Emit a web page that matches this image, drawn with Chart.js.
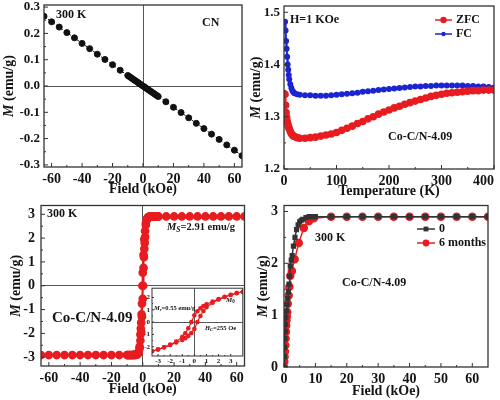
<!DOCTYPE html>
<html lang="en">
<head>
  <meta charset="UTF-8">
  <script src="https://cdn.jsdelivr.net/npm/chart.js@4.4.1/dist/chart.umd.min.js"></script>
  <title>Magnetization panels</title>
  <style>
    body { margin: 0; background: #fff; }
    #wrap { position: relative; width: 500px; height: 400px; }
    canvas { position: absolute; }
  </style>
</head>
<body>
  <div id="wrap">
    <canvas id="c1" style="left:0;top:0" width="250" height="200"></canvas>
    <canvas id="c2" style="left:250px;top:0" width="250" height="200"></canvas>
    <canvas id="c3" style="left:0;top:200px" width="250" height="200"></canvas>
    <canvas id="c4" style="left:250px;top:200px" width="250" height="200"></canvas>
    <canvas id="c5" style="left:140px;top:283px" width="108" height="85"></canvas>
  </div>
  <script>
    // panel a: CN at 300 K
    const P1_FIELD = [-65, -60, -55, -50, -45, -40, -35, -30, -25, -20, -15,
      -10, -9, -8, -7, -6, -5, -4, -3, -2, -1, 0, 1, 2, 3, 4, 5, 6, 7, 8, 9, 10,
      15, 20, 25, 30, 35, 40, 45, 50, 55, 60, 65];
    const P1_M = [0.265, 0.244, 0.224, 0.203, 0.183, 0.162, 0.142, 0.121, 0.101, 0.081, 0.060,
      0.040, 0.036, 0.032, 0.028, 0.024, 0.020, 0.016, 0.012, 0.008, 0.004, 0.000, -0.004, -0.008, -0.012, -0.016, -0.020, -0.024, -0.028, -0.032, -0.036, -0.040,
      -0.060, -0.081, -0.101, -0.121, -0.142, -0.162, -0.183, -0.203, -0.224, -0.244, -0.265];
    const P1_XTICKS = [-60, -40, -20, 0, 20, 40, 60];
    const P1_YTICKS = [-0.3, -0.2, -0.1, 0, 0.1, 0.2, 0.3];

    // panel b: ZFC / FC
    const P2_T = [2, 3, 4, 5, 6, 7, 8, 9, 10, 12, 14, 16, 18, 20, 25, 30,
      40, 50, 60, 70, 80, 90,
      100, 110, 120, 130, 140, 150, 160, 170, 180, 190, 200, 210, 220, 230, 240, 250,
      260, 270, 280, 290, 300, 310, 320, 330, 340, 350, 360, 370, 380, 390, 400];
    const P2_ZFC = [1.343, 1.322, 1.308, 1.299, 1.292, 1.287, 1.283, 1.280, 1.277, 1.272, 1.268, 1.265, 1.263, 1.262, 1.260, 1.259,
      1.259, 1.260, 1.261, 1.263, 1.265, 1.267,
      1.270, 1.274, 1.278, 1.282, 1.287, 1.291, 1.296, 1.300, 1.305, 1.309, 1.313, 1.317, 1.320, 1.324, 1.327, 1.330,
      1.333, 1.336, 1.339, 1.341, 1.343, 1.345, 1.346, 1.347, 1.348, 1.349, 1.350, 1.350, 1.351, 1.351, 1.351];
    const P2_FC = [1.482, 1.465, 1.445, 1.430, 1.415, 1.400, 1.390, 1.380, 1.372, 1.362, 1.355, 1.350, 1.347, 1.345, 1.343, 1.342,
      1.341, 1.341, 1.340, 1.340, 1.340, 1.341,
      1.342, 1.343, 1.344, 1.345, 1.346, 1.348, 1.349, 1.350, 1.351, 1.352, 1.353, 1.354, 1.355, 1.356, 1.357, 1.358,
      1.358, 1.359, 1.359, 1.360, 1.360, 1.360, 1.360, 1.360, 1.360, 1.359, 1.359, 1.358, 1.358, 1.357, 1.356];
    const P2_XTICKS = [0, 100, 200, 300, 400];
    const P2_YTICKS = [1.2, 1.3, 1.4, 1.5];

    // panel c: hysteresis of Co-C/N-4.09
    const P3_H_UP = [-65, -60, -55, -50, -45, -40, -35, -30, -25, -20, -15,
      -10, -9, -8, -7, -6, -5,
      -4.5, -4, -3.5, -3, -2.5, -2, -1.5, -1, -0.5,
      0, 0.25, 0.5, 0.75, 1, 1.25, 1.5,
      2, 2.5, 3, 3.5, 4, 4.5, 5,
      6, 7, 8, 9, 10,
      15, 20, 25, 30, 35, 40, 45, 50, 55, 60, 65];
    const P3_M_UP = [-2.91, -2.91, -2.91, -2.91, -2.91, -2.91, -2.91, -2.91, -2.91, -2.91, -2.91,
      -2.91, -2.91, -2.91, -2.91, -2.90, -2.90,
      -2.89, -2.88, -2.86, -2.83, -2.76, -2.62, -2.30, -1.95, -1.30,
      -0.55, 0, 0.75, 1.20, 1.55, 1.80, 2.05,
      2.55, 2.78, 2.85, 2.88, 2.89, 2.90, 2.90,
      2.91, 2.91, 2.91, 2.91, 2.91,
      2.91, 2.91, 2.91, 2.91, 2.91, 2.91, 2.91, 2.91, 2.91, 2.91, 2.91];
    const P3_H_DOWN = [10, 9, 8, 7, 6, 5,
      4.5, 4, 3.5, 3, 2.5, 2, 1.5, 1, 0.5,
      0, -0.25, -0.5, -0.75, -1, -1.25, -1.5,
      -2, -2.5, -3, -3.5, -4, -4.5, -5,
      -6, -7, -8, -9, -10];
    const P3_M_DOWN = [2.91, 2.91, 2.91, 2.91, 2.90, 2.90,
      2.89, 2.88, 2.86, 2.83, 2.76, 2.62, 2.30, 1.95, 1.30,
      0.55, 0, -0.75, -1.20, -1.55, -1.80, -2.05,
      -2.55, -2.78, -2.85, -2.88, -2.89, -2.90, -2.90,
      -2.91, -2.91, -2.91, -2.91, -2.91];
    const P3_XTICKS = [-60, -40, -20, 0, 20, 40, 60];
    const P3_YTICKS = [-3, -2, -1, 0, 1, 2, 3];

    // inset: low field loop
    const P5_H = [-3.5, -3, -2.5, -2, -1.5, -1, -0.75, -0.5, -0.25, 0, 0.25, 0.5, 0.75, 1, 1.5, 2, 2.5, 3, 3.5, 4];
    const P5_M_DOWN = [-2.36, -2.22, -2.05, -1.83, -1.57, -1.20, -0.90, -0.50, 0.00, 0.55, 0.88, 1.12, 1.30, 1.45, 1.66, 1.86, 2.04, 2.20, 2.35, 2.46];
    const P5_M_UP = [-2.37, -2.21, -2.04, -1.86, -1.66, -1.45, -1.30, -1.12, -0.88, -0.55, 0.00, 0.50, 0.90, 1.20, 1.57, 1.83, 2.05, 2.22, 2.36, 2.46];
    const P5_XTICKS = [-3, -2, -1, 0, 1, 2, 3];
    const P5_YTICKS = [-2, -1, 0, 1, 2];

    // panel d: fresh vs 6 months
    const P4_H0 = [0, 0.1, 0.2, 0.3, 0.4, 0.5, 0.6,
      0.8, 1, 1.2, 1.4, 1.6, 1.8, 2,
      2.3, 2.6, 3, 3.5, 4, 4.5, 5, 5.5, 6,
      7, 8, 9, 10,
      15, 20, 25, 30, 35, 40, 45, 50, 55, 60, 65];
    const P4_M0 = [0, 0.20, 0.38, 0.55, 0.68, 0.82, 0.95,
      1.08, 1.20, 1.32, 1.45, 1.60, 1.75, 1.95,
      2.06, 2.15, 2.33, 2.50, 2.65, 2.74, 2.80, 2.83, 2.85,
      2.88, 2.90, 2.90, 2.90,
      2.90, 2.90, 2.90, 2.90, 2.90, 2.90, 2.90, 2.90, 2.90, 2.90, 2.90];
    const P4_H6 = [0, 0.1, 0.2, 0.3, 0.4, 0.5, 0.6, 0.7, 0.8, 0.9, 1,
      1.2, 1.5, 1.7, 2, 2.5,
      3.4, 4.7, 6.3, 7.9, 9.5,
      15, 20, 25, 30, 35, 40, 45, 50, 55, 60, 65];
    const P4_M6 = [0, 0.10, 0.20, 0.30, 0.42, 0.55, 0.68, 0.80, 0.90, 0.98, 1.06,
      1.22, 1.38, 1.55, 1.76, 1.85,
      2.08, 2.39, 2.68, 2.81, 2.87,
      2.90, 2.90, 2.90, 2.90, 2.90, 2.90, 2.90, 2.90, 2.90, 2.90, 2.90];
    const P4_XTICKS = [0, 10, 20, 30, 40, 50, 60];
    const P4_YTICKS = [0, 1, 2, 3];

    const SERIF = '"Liberation Serif", "Times New Roman", serif';
    const RED = 'rgb(232, 28, 32)';
    const BLUE = 'rgb(28, 36, 210)';
    const INK = '#141414';

    function pts(xs, ys) {
      return xs.map((x, i) => ({ x: x, y: ys[i] }));
    }

    // text with italic / subscript pieces
    function rich(ctx, segs, x, y, size, center) {
      const fontOf = s => (s.i ? 'italic ' : '') + 'bold ' + (s.sub ? size * 0.72 : size) + 'px ' + SERIF;
      let w = 0;
      segs.forEach(s => { ctx.font = fontOf(s); w += ctx.measureText(s.t).width; });
      let cx = center ? x - w / 2 : x;
      ctx.textAlign = 'left';
      ctx.textBaseline = 'middle';
      segs.forEach(s => {
        ctx.font = fontOf(s);
        ctx.fillText(s.t, cx, y + (s.sub ? size * 0.3 : 0));
        cx += ctx.measureText(s.t).width;
      });
    }

    const deco = {
      id: 'deco',
      beforeDraw(chart, args, o) {
        if (!o.fill) return;
        const a = chart.chartArea, ctx = chart.ctx;
        ctx.save();
        ctx.fillStyle = '#fff';
        ctx.fillRect(a.left, a.top, a.right - a.left, a.bottom - a.top);
        ctx.restore();
      },
      afterDraw(chart, args, o) {
        const ctx = chart.ctx, a = chart.chartArea;
        const xs = chart.scales.x, ys = chart.scales.y;
        ctx.save();
        ctx.fillStyle = INK;
        ctx.strokeStyle = '#333';
        ctx.lineWidth = o.frame || 1.3;
        ctx.strokeRect(a.left, a.top, a.right - a.left, a.bottom - a.top);

        // inward ticks with minor ones halfway
        const tk = o.tick || 4;
        ctx.lineWidth = 1;
        ctx.beginPath();
        const xt = xs.ticks.map(t => t.value), yt = ys.ticks.map(t => t.value);
        xt.forEach((v, i) => {
          const p = xs.getPixelForValue(v);
          ctx.moveTo(p, a.bottom); ctx.lineTo(p, a.bottom - tk);
          if (i < xt.length - 1) {
            const m = xs.getPixelForValue((v + xt[i + 1]) / 2);
            ctx.moveTo(m, a.bottom); ctx.lineTo(m, a.bottom - tk / 2);
          }
        });
        yt.forEach((v, i) => {
          const p = ys.getPixelForValue(v);
          ctx.moveTo(a.left, p); ctx.lineTo(a.left + tk, p);
          if (i < yt.length - 1) {
            const m = ys.getPixelForValue((v + yt[i + 1]) / 2);
            ctx.moveTo(a.left, m); ctx.lineTo(a.left + tk / 2, m);
          }
        });
        ctx.stroke();

        // tick labels at the frame edge, placed from the scale itself
        (o.edge || []).forEach(e => {
          ctx.font = 'bold ' + e.size + 'px ' + SERIF;
          ctx.fillStyle = INK;
          ctx.textBaseline = 'middle';
          if (e.axis === 'y') {
            ctx.textAlign = 'right';
            ctx.fillText(e.text, a.left - e.pad, ys.getPixelForValue(e.value));
          } else {
            ctx.textAlign = e.align || 'center';
            ctx.fillText(e.text, xs.getPixelForValue(e.value), a.bottom + e.pad + e.size * 0.6);
          }
        });

        (o.notes || []).forEach(n => rich(ctx, n.segs || [{ t: n.text }], n.x, n.y, n.size || 12, n.center));

        (o.legend || []).forEach(l => {
          ctx.strokeStyle = l.color;
          ctx.lineWidth = l.lw || 1.5;
          ctx.beginPath();
          ctx.moveTo(l.x1, l.y); ctx.lineTo(l.x2, l.y);
          ctx.stroke();
          ctx.fillStyle = l.color;
          const mx = (l.x1 + l.x2) / 2;
          if (l.square) {
            ctx.fillRect(mx - l.r, l.y - l.r, l.r * 2, l.r * 2);
          } else {
            ctx.beginPath();
            ctx.arc(mx, l.y, l.r, 0, Math.PI * 2);
            ctx.fill();
          }
          ctx.fillStyle = INK;
          rich(ctx, [{ t: l.label }], l.x2 + 4, l.y, l.size || 12);
        });

        if (o.ytitle) {
          ctx.translate(o.ytitle.x, (a.top + a.bottom) / 2);
          ctx.rotate(-Math.PI / 2);
          ctx.fillStyle = INK;
          rich(ctx, [{ t: 'M', i: true }, { t: ' (emu/g)' }], 0, 0, o.ytitle.size || 14, true);
        }
        ctx.restore();
      }
    };

    function axis(a, horiz) {
      return {
        type: 'linear',
        min: a.min,
        max: a.max,
        afterBuildTicks: s => { s.ticks = a.ticks.map(v => ({ value: v })); },
        afterFit: s => {
          if (horiz) s.height = a.size; else s.width = a.size;
          // keep the plot box where the figure has it, labels may overhang
          s.paddingTop = 0; s.paddingBottom = 0; s.paddingLeft = 0; s.paddingRight = 0;
        },
        grid: {
          display: !!a.zero,
          drawTicks: false,
          lineWidth: 1,
          color: c => (c.tick && c.tick.value === 0) ? '#555' : 'rgba(0,0,0,0)'
        },
        border: { display: false },
        ticks: {
          color: INK,
          padding: a.pad === undefined ? 4 : a.pad,
          autoSkip: false,
          maxRotation: 0,
          font: { family: SERIF, weight: 'bold', size: a.font || 14, lineHeight: horiz ? 1.2 : 1 },
          callback: v => (a.skip === v) ? '' : (a.fmt ? a.fmt(v) : String(v))
        },
        title: a.title ? {
          display: true,
          text: a.title,
          color: INK,
          font: { family: SERIF, weight: 'bold', size: 14 },
          padding: { top: 0, bottom: a.tpad === undefined ? 1 : a.tpad }
        } : { display: false }
      };
    }

    function panel(id, o) {
      return new Chart(document.getElementById(id), {
        type: 'scatter',
        data: { datasets: o.datasets },
        options: {
          responsive: false,
          animation: false,
          layout: { padding: { top: o.pad[0], right: o.pad[1], bottom: 0, left: 0 } },
          plugins: { legend: { display: false }, tooltip: { enabled: false }, deco: o.deco },
          scales: { x: axis(o.x, true), y: axis(o.y, false) }
        },
        plugins: [deco]
      });
    }

    // (a)
    panel('c1', {
      pad: [5, 8],
      x: { min: -65, max: 65, ticks: P1_XTICKS, size: 33, zero: true, title: 'Field (kOe)', tpad: 2 },
      y: { min: -0.308, max: 0.308, ticks: P1_YTICKS, size: 44, zero: true, font: 13, fmt: v => v.toFixed(1),
        skip: P1_YTICKS[P1_YTICKS.length - 1] },
      datasets: [{
        data: pts(P1_FIELD, P1_M), showLine: true,
        borderColor: '#111', borderWidth: 1, borderDash: [3, 2],
        pointRadius: 3, pointBackgroundColor: '#111', pointBorderColor: '#111'
      }],
      deco: {
        edge: [{ axis: 'y', value: P1_YTICKS[P1_YTICKS.length - 1], text: '0.3', size: 13, pad: 4 }],
        ytitle: { x: 9 },
        notes: [
          { text: '300 K', x: 56, y: 15, size: 12 },
          { text: 'CN', x: 202, y: 23, size: 12 }
        ]
      }
    });

    // (b)
    panel('c2', {
      pad: [5, 3],
      x: { min: 0, max: 400, ticks: P2_XTICKS, size: 31, title: 'Temperature (K)', tpad: 0,
        skip: P2_XTICKS[P2_XTICKS.length - 1] },
      y: { min: 1.2, max: 1.512, ticks: P2_YTICKS, size: 34, font: 13, fmt: v => v.toFixed(1) },
      datasets: [
        {
          data: pts(P2_T, P2_ZFC), showLine: true,
          borderColor: RED, borderWidth: 2,
          pointRadius: 2.8, pointBackgroundColor: RED, pointBorderColor: RED
        },
        {
          data: pts(P2_T, P2_FC), showLine: true,
          borderColor: BLUE, borderWidth: 2,
          pointRadius: 2, pointBackgroundColor: BLUE, pointBorderColor: BLUE
        }
      ],
      deco: {
        // the last label ends at the frame edge in the figure
        edge: [{ axis: 'x', value: P2_XTICKS[P2_XTICKS.length - 1], text: '400', size: 14, pad: 4, align: 'right' }],
        ytitle: { x: 6 },
        notes: [
          { text: 'H=1 KOe', x: 40, y: 20, size: 12 },
          { text: 'Co-C/N-4.09', x: 138, y: 137, size: 12 }
        ],
        legend: [
          { x1: 185, x2: 202, y: 20, color: RED, r: 3.2, label: 'ZFC' },
          { x1: 185, x2: 202, y: 34, color: BLUE, r: 2.2, label: 'FC' }
        ]
      }
    });

    // (c)
    panel('c3', {
      pad: [3, 3],
      x: { min: -65, max: 65, ticks: P3_XTICKS, size: 34, zero: true, title: 'Field (kOe)', tpad: 2 },
      y: { min: -3.37, max: 3.37, ticks: P3_YTICKS, size: 41, zero: true, pad: 6 },
      datasets: [
        {
          data: pts(P3_H_UP, P3_M_UP), showLine: true,
          borderColor: RED, borderWidth: 1.5,
          pointRadius: 3.6, pointBackgroundColor: RED, pointBorderColor: RED
        },
        {
          data: pts(P3_H_DOWN, P3_M_DOWN), showLine: true,
          borderColor: RED, borderWidth: 1.5,
          pointRadius: 3.6, pointBackgroundColor: RED, pointBorderColor: RED
        }
      ],
      deco: {
        ytitle: { x: 16 },
        notes: [
          { text: '300 K', x: 47, y: 14, size: 12 },
          { segs: [{ t: 'M', i: true }, { t: 'S', i: true, sub: true }, { t: '=2.91 emu/g' }], x: 167, y: 27, size: 10.5 },
          { text: 'Co-C/N-4.09', x: 52, y: 118, size: 15 }
        ]
      }
    });

    // inset of (c)
    panel('c5', {
      pad: [3, 2],
      x: { min: -3.5, max: 4, ticks: P5_XTICKS, size: 12, zero: true, font: 7, pad: 1 },
      y: { min: -2.75, max: 2.75, ticks: P5_YTICKS, size: 12, zero: true, font: 7, pad: 2 },
      datasets: [
        {
          data: pts(P5_H, P5_M_DOWN), showLine: true,
          borderColor: RED, borderWidth: 1.2,
          pointRadius: 1.7, pointBackgroundColor: RED, pointBorderColor: RED
        },
        {
          data: pts(P5_H, P5_M_UP), showLine: true,
          borderColor: RED, borderWidth: 1.2,
          pointRadius: 1.7, pointBackgroundColor: RED, pointBorderColor: RED
        }
      ],
      deco: {
        fill: true,
        frame: 1,
        tick: 2,
        notes: [
          { segs: [{ t: 'M', i: true }, { t: 'r', i: true, sub: true }, { t: '=0.55 emu/g' }], x: 14, y: 25, size: 6.5 },
          { segs: [{ t: 'M', i: true }, { t: '0', sub: true }], x: 86, y: 17, size: 7 },
          { segs: [{ t: 'H', i: true }, { t: 'C', i: true, sub: true }, { t: '=255 Oe' }], x: 65, y: 45, size: 6.5 }
        ]
      }
    });

    // (d)
    panel('c4', {
      pad: [4, 12],
      x: { min: 0, max: 65, ticks: P4_XTICKS, size: 33, title: 'Field (kOe)', tpad: 0 },
      y: { min: 0, max: 3.115, ticks: P4_YTICKS, size: 34, pad: 6 },
      datasets: [
        {
          data: pts(P4_H0, P4_M0), showLine: true,
          borderColor: '#333', borderWidth: 1.5, pointStyle: 'rect',
          pointRadius: 2.6, pointBackgroundColor: '#333', pointBorderColor: '#333'
        },
        {
          data: pts(P4_H6, P4_M6), showLine: true,
          borderColor: RED, borderWidth: 1.5,
          pointRadius: 3.5, pointBackgroundColor: RED, pointBorderColor: RED
        }
      ],
      deco: {
        ytitle: { x: 13 },
        notes: [
          { text: '300 K', x: 65, y: 38, size: 12 },
          { text: 'Co-C/N-4.09', x: 92, y: 83, size: 12 }
        ],
        legend: [
          { x1: 167, x2: 185, y: 29, color: '#333', r: 2.4, square: true, label: '0' },
          { x1: 167, x2: 185, y: 43, color: RED, r: 3.4, label: '6 months' }
        ]
      }
    });
  </script>
</body>
</html>
